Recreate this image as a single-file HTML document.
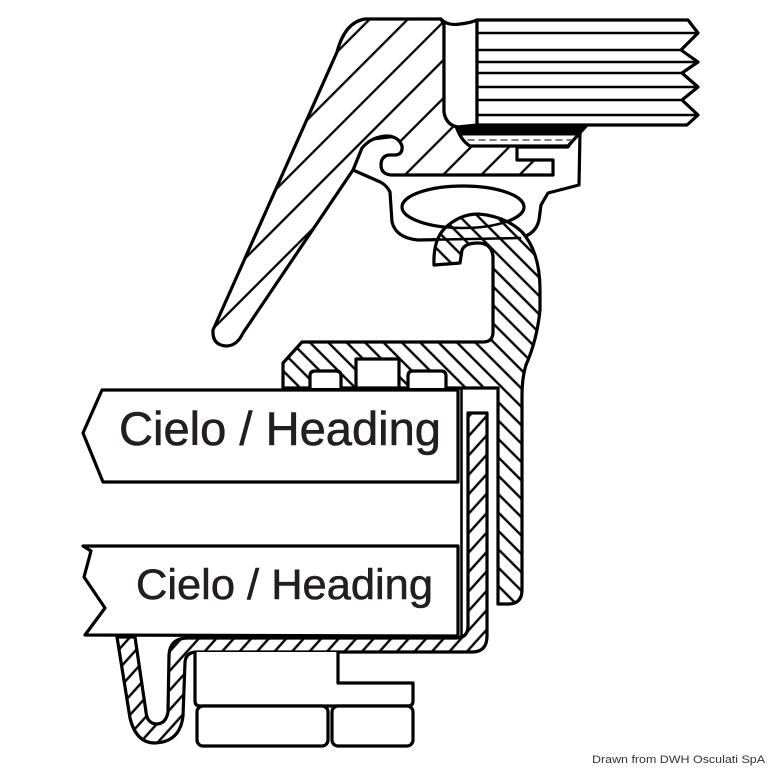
<!DOCTYPE html>
<html>
<head>
<meta charset="utf-8">
<style>
  html,body{margin:0;padding:0;background:#fff;}
  svg{display:block;}
  text{font-family:"Liberation Sans", Arial, sans-serif;}
</style>
</head>
<body>
<svg width="768" height="768" viewBox="0 0 768 768" xmlns="http://www.w3.org/2000/svg">
  <defs>
    <pattern id="hL" patternUnits="userSpaceOnUse" width="27" height="27" patternTransform="rotate(45)">
      <rect width="27" height="27" fill="#fff"/>
      <line x1="5" y1="0" x2="5" y2="27" stroke="#000" stroke-width="2.3"/>
    </pattern>
    <pattern id="hC" patternUnits="userSpaceOnUse" width="13" height="13" patternTransform="rotate(-45)">
      <rect width="13" height="13" fill="#fff"/>
      <line x1="3" y1="0" x2="3" y2="13" stroke="#000" stroke-width="2.4"/>
    </pattern>
    <pattern id="hB" patternUnits="userSpaceOnUse" width="13" height="13" patternTransform="rotate(42)">
      <rect width="13" height="13" fill="#fff"/>
      <line x1="3" y1="0" x2="3" y2="13" stroke="#000" stroke-width="2.4"/>
    </pattern>
  </defs>

  <rect width="768" height="768" fill="#fff"/>

  <g stroke="#000" stroke-width="3.2" stroke-linejoin="round" stroke-linecap="round">
    <!-- white seal profile -->
    <path d="M353,170 L365,140 L460,128 L586,124 L580,132 L579,185 L548,193 L541,205 L539,220 Q536,234 520,238 L418,240 Q396,238 392,222 L390,192 Q386,184 378,181 Z" fill="#fff"/>

    <!-- lever (hatched) -->
    <path d="M365,19 L441,19 L444,24 L444,112 Q446,125 458,127 L582,127 L568,147 L517,147 L517,160 L553,160 L553,175 L391,175 Q381,174 381,165 Q381,156 389,155 L396,155 Q403,154 402,146 Q399,137 388,136 Q372,136 362,148 L353,170 L243,333 Q237,346 226,346 Q212,345 213,330 L337,52 Q345,22 365,19 Z" fill="url(#hL)"/>

    <!-- dark strip under panel -->
    <path d="M455,123 L588,124 L568,146 L470,146 Q460,140 455,123 Z" fill="#fff"/>
    <polygon points="456,124 587,124 578,135 462,135" fill="#000" stroke-width="1"/>
    <line x1="468" y1="140" x2="572" y2="140" stroke="#555" stroke-width="1.5" stroke-dasharray="6 5"/>

    <!-- vertical white strip -->
    <path d="M441,19 Q447,26 460,24 Q470,23 477,20 L477,125 L458,127 Q446,125 444,112 L444,24 Z" fill="#fff"/>

    <!-- layered panel -->
    <polygon points="477,20 688,20 698,33 681,50 698,62 682,73 698,87 682,100 698,115 687,125 477,125" fill="#fff"/>
    <g stroke-width="2.6">
      <line x1="477" y1="33" x2="698" y2="33"/>
      <line x1="477" y1="50" x2="681" y2="50"/>
      <line x1="477" y1="62" x2="698" y2="62"/>
      <line x1="477" y1="73" x2="682" y2="73"/>
      <line x1="477" y1="87" x2="698" y2="87"/>
      <line x1="477" y1="100" x2="682" y2="100"/>
      <line x1="477" y1="115" x2="698" y2="115"/>
    </g>

    <!-- ellipse hole -->
    <ellipse cx="463" cy="207" rx="61" ry="21" fill="#fff"/>

    <!-- channel + J profile (hatched) -->
    <path d="M283,388 L283,363 L302,342 L483,342 Q493,342 493,332 L493,257 Q492,243 478,243 Q465,243 462,250 L460,263 L434,265 Q433,240 445,228 Q460,214 478,214 Q505,216 522,232 Q540,252 540,290 L540,310 Q537,340 526,365 Q522,378 522,395 L522,590 Q522,604 508,604 L498,604 L498,388 Z" fill="url(#hC)"/>

    <!-- lines passing over J -->
    <ellipse cx="463" cy="207" rx="61" ry="21" fill="none" stroke-width="2.5"/>
    <path d="M418,240 L520,238" fill="none" stroke-width="2.5"/>

    <!-- channel cutouts -->
    <path d="M310,388 L310,376 Q310,371 315,371 L336,371 Q341,371 341,376 L341,388" fill="#fff"/>
    <rect x="356" y="359" width="43" height="29" fill="#fff"/>
    <path d="M408,388 L408,376 Q408,371 413,371 L441,371 Q446,371 446,376 L446,388" fill="#fff"/>

    <!-- boards -->
    <path d="M102,390 L458,390 L458,482 L103,482 L83,433 Z" fill="#fff"/>
    <path d="M83,546 L458,546 L458,636 L85,635 L105,608 L84,577 L91,551 Z" fill="#fff"/>

    <line x1="461.5" y1="388" x2="461.5" y2="638" stroke-width="2.5"/>

    <!-- bottom L profile with U clip -->
    <path d="M117,637 L130,718 Q136,743 155,743 Q180,742 183,716 L185,662 Q186,652 197,652 L472,652 Q487,652 487,636 L487,413 L468,413 L468,626 Q468,638 456,638 L188,638 Q170,638 169,655 L168,712 Q166,724 156,724 Q147,723 146,712 L135,637 Z" fill="url(#hB)"/>

    <!-- blocks -->
    <path d="M195,652 L195,701 Q195,706 200,706 L408,706 Q413,706 413,701 L413,683 L338,683 L338,652" fill="#fff"/>
    <rect x="197" y="706" width="131" height="40" rx="6" fill="#fff"/>
    <rect x="332" y="706" width="81" height="40" rx="6" fill="#fff"/>
  </g>

  <text x="119" y="445" font-size="47" fill="#231f20" stroke="#231f20" stroke-width="0.6" textLength="322" lengthAdjust="spacingAndGlyphs">Cielo / Heading</text>
  <text x="136" y="599" font-size="43" fill="#231f20" stroke="#231f20" stroke-width="0.6" textLength="297" lengthAdjust="spacingAndGlyphs">Cielo / Heading</text>

  <text x="592" y="763" font-size="11" fill="#333" textLength="173" lengthAdjust="spacingAndGlyphs">Drawn from DWH Osculati SpA</text>
</svg>
</body>
</html>
